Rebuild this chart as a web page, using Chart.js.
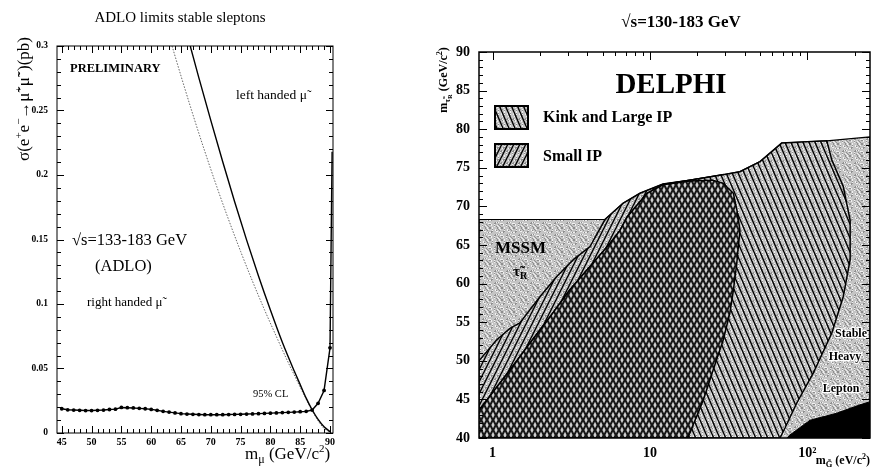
<!DOCTYPE html>
<html><head><meta charset="utf-8">
<script src="https://cdn.jsdelivr.net/npm/chart.js@4.4.1/dist/chart.umd.min.js"></script>
<style>
html,body{margin:0;padding:0;background:#fff;width:871px;height:467px;overflow:hidden}
canvas{position:absolute;top:0}
#c1{left:0}
#c2{left:430px}
</style></head><body>
<canvas id="c1" width="345" height="467"></canvas>
<canvas id="c2" width="441" height="467"></canvas>
<script>
// ================= LEFT PANEL DATA =================
const limitMass = [45,46,47,48,49,50,51,52,53,54,55,56,57,58,59,60,61,62,63,64,65,66,67,68,69,70,71,72,73,74,75,76,77,78,79,80,81,82,83,84,85,86,87,88,89,90,90.35];
const limitXsec = [0.0188,0.0180,0.0178,0.0176,0.0174,0.0174,0.0176,0.0178,0.0182,0.0185,0.0198,0.0196,0.0194,0.0191,0.0188,0.0183,0.0176,0.0168,0.0162,0.0156,0.0150,0.0147,0.0145,0.0143,0.0142,0.0142,0.0142,0.0142,0.0143,0.0144,0.0145,0.0147,0.0148,0.0150,0.0152,0.0154,0.0156,0.0158,0.0160,0.0162,0.0165,0.0168,0.0178,0.0230,0.0330,0.0660,0.2180];
const leftHandedMass = [66.55,68,70,72,74,76,78,80,82,84,85,86,87,88,89,90.1];
const leftHandedXsec = [0.300,0.2753,0.2423,0.2103,0.1793,0.1497,0.1217,0.0953,0.0703,0.048,0.0375,0.027,0.018,0.0105,0.0048,0.0008];
const rightHandedMass = [63.5,65,67,69,71,73,75,77,79,81,82,83,84,85,86,87,88,89,90.1];
const rightHandedXsec = [0.300,0.2768,0.2468,0.2182,0.191,0.1652,0.1408,0.1176,0.0956,0.0748,0.0645,0.0545,0.045,0.0355,0.0262,0.0173,0.0095,0.0035,0.0005];
const leftXTicks = [45,50,55,60,65,70,75,80,85,90];
const leftXMinorTicks = [46,47,48,49,51,52,53,54,56,57,58,59,61,62,63,64,66,67,68,69,71,72,73,74,76,77,78,79,81,82,83,84,86,87,88,89];
const leftYTicks = [0,0.05,0.1,0.15,0.2,0.25,0.3];
const leftYTickLabels = ['0','0.05','0.1','0.15','0.2','0.25','0.3'];
const leftYMinorTicks = [0.01,0.02,0.03,0.04,0.06,0.07,0.08,0.09,0.11,0.12,0.13,0.14,0.16,0.17,0.18,0.19,0.21,0.22,0.23,0.24,0.26,0.27,0.28,0.29];

// ================= RIGHT PANEL DATA =================
const gravitinoTicks = [1,10,100];
const gravitinoTickLabels = ['1','10','10\u00B2'];
const gravitinoMinorTicks = [2,3,4,5,6,7,8,9,20,30,40,50,60,70,80,90,200];
const stauTicks = [40,45,50,55,60,65,70,75,80,85,90];
const stauMinorTicks = [41,42,43,44,46,47,48,49,51,52,53,54,56,57,58,59,61,62,63,64,66,67,68,69,71,72,73,74,76,77,78,79,81,82,83,84,86,87,88,89];
const gMin = 0.82, gMax = 250, stauMin = 40, stauMax = 90;
const mssmBandTop = 68.3;
// upper/left edge of the "Small IP" region (m_G in eV, m_stau in GeV)
const smallIPEdgeG = [0.82,1.06,1.29,1.49,2.0,2.55,3.26,4.16,5.18,6.74,8.64,12.1,17.9,29.1];
const smallIPEdgeM = [50.0,52.7,54.2,54.9,58.3,60.9,63.1,64.8,68.3,70.4,71.7,72.9,73.4,74.1];
// left edge of the "Kink and Large IP" region (= left edge of overlap)
const kinkEdgeG = [0.82,1.29,1.73,2.32,3.10,4.16,5.57,6.45,7.14,9.57,12.1];
const kinkEdgeM = [43.6,48.8,52.3,55.7,59.2,62.2,65.2,66.9,68.6,71.7,72.8];
// top of overlap region
const overlapTopG = [12.1,17.9,25.0,29.1];
const overlapTopM = [72.8,73.3,73.4,73.0];
// right edge of overlap (= right edge of Small IP), top to bottom
const overlapRightG = [29.1,33.9,35.7,37.3,35.6,33.9,32.2,29.2,25.2,21.8,17.9,17.3];
const overlapRightM = [73.0,71.7,69.5,66.9,62.6,59.2,56.2,52.7,48.8,44.9,40.6,40.0];
// top of Kink region
const kinkTopG = [12.1,17.9,29.1,37.3,50,68.7,133];
const kinkTopM = [72.8,73.4,74.1,74.5,75.8,78.2,78.5];
// right edge of Kink region, top to bottom
const kinkRightG = [133,143,169,187,187,169,143,109,85.5,72.1,67];
const kinkRightM = [78.5,76.0,72.6,68.2,63.1,58.3,53.6,48.4,44.5,41.3,40.0];
// top of stable heavy lepton region
const stableTopG = [133,250];
const stableTopM = [78.5,79.0];
// top of black excluded region
const blackTopG = [74,77.5,104,153,216,250];
const blackTopM = [40,40.4,42.3,43.2,44.3,44.7];

// ================= PATTERNS =================
function makeTile(w, h, draw) {
  const c = document.createElement('canvas'); c.width = w; c.height = h;
  const g = c.getContext('2d'); draw(g, w, h);
  return g.createPattern(c, 'repeat');
}
function stipple(g, w, h) {
  g.fillStyle = '#c4c4c4'; g.fillRect(0, 0, w, h);
  for (let y = 0; y < h; y++) for (let x = 0; x < w; x++) {
    const k = (x * 7 + y * 13 + x * y * 3) % 11;
    if (k === 0 || k === 5) { g.fillStyle = '#8e8e8e'; g.fillRect(x, y, 1, 1); }
    else if (k === 3 || k === 8) { g.fillStyle = '#f0f0f0'; g.fillRect(x, y, 1, 1); }
  }
}
const ptn = {
  gray: makeTile(12, 12, stipple),
  smallIP: makeTile(6, 12, (g, w, h) => { stipple(g, w, h); g.strokeStyle = '#000'; g.lineWidth = 1.4; g.beginPath(); for (const o of [-w, 0, w]) { g.moveTo(o, h); g.lineTo(o + w, 0); } g.stroke(); }),
  kink: makeTile(6, 14, (g, w, h) => { stipple(g, w, h); g.strokeStyle = '#000'; g.lineWidth = 1.4; g.beginPath(); for (const o of [-w, 0, w]) { g.moveTo(o, 0); g.lineTo(o + w, h); } g.stroke(); }),
  overlap: makeTile(6, 10, (g, w, h) => {
    g.fillStyle = '#161616'; g.fillRect(0, 0, w, h); g.fillStyle = '#cfcfcf';
    const dia = (cx, cy) => { g.beginPath(); g.moveTo(cx, cy - 3.3); g.lineTo(cx + 1.6, cy); g.lineTo(cx, cy + 3.3); g.lineTo(cx - 1.6, cy); g.closePath(); g.fill(); };
    dia(3, 5); dia(0, 0); dia(6, 0); dia(0, 10); dia(6, 10);
  })
};

// ================= HELPERS / PLUGINS =================
const SERIF = '"Liberation Serif", "Times New Roman", serif';
const pts = (xs, ys) => xs.map((x, i) => ({ x: x, y: ys[i] }));

function drawRich(ctx, x, y, parts, align) {
  let total = 0;
  parts.forEach(p => { ctx.font = p.f; p.w = ctx.measureText(p.t).width; total += p.w; });
  let cx = align === 'center' ? x - total / 2 : align === 'right' ? x - total : x;
  parts.forEach(p => {
    ctx.font = p.f;
    if (p.halo) { ctx.strokeStyle = '#fff'; ctx.lineWidth = 2.5; ctx.lineJoin = 'round'; ctx.strokeText(p.t, cx, y + (p.dy || 0)); }
    ctx.fillStyle = p.c || '#000';
    ctx.fillText(p.t, cx, y + (p.dy || 0)); cx += p.w;
  });
}

const frameTicks = {
  id: 'frameTicks',
  afterDatasetsDraw(chart, args, o) {
    const { ctx, chartArea: a } = chart; const x = chart.scales.x, y = chart.scales.y;
    ctx.save(); ctx.strokeStyle = '#000';
    ctx.lineWidth = o.tickWidth; ctx.beginPath();
    const xt = (vals, len) => vals.forEach(v => { const p = Math.round(x.getPixelForValue(v)) + 0.5;
      if (o.bottom) { ctx.moveTo(p, a.bottom); ctx.lineTo(p, a.bottom - len); }
      ctx.moveTo(p, a.top); ctx.lineTo(p, a.top + len); });
    const yt = (vals, len) => vals.forEach(v => { const p = Math.round(y.getPixelForValue(v)) + 0.5;
      ctx.moveTo(a.left, p); ctx.lineTo(a.left + len, p);
      ctx.moveTo(a.right, p); ctx.lineTo(a.right - len, p); });
    xt(o.xMajor, o.majorLen); xt(o.xMinor, o.minorLen); yt(o.yMajor, o.majorLen); yt(o.yMinor, o.minorLen);
    ctx.stroke();
    ctx.lineWidth = o.frameWidth;
    ctx.strokeRect(a.left, a.top, a.right - a.left, a.bottom - a.top);
    ctx.restore();
  }
};

const annotations = {
  id: 'annotations',
  afterDraw(chart, args, o) {
    const ctx = chart.ctx; ctx.save(); ctx.textBaseline = 'alphabetic'; ctx.textAlign = 'left';
    (o.boxes || []).forEach(b => { ctx.fillStyle = b.fill; ctx.fillRect(b.x, b.y, b.w, b.h); ctx.lineWidth = 2; ctx.strokeStyle = '#000'; ctx.strokeRect(b.x, b.y, b.w, b.h); });
    (o.items || []).forEach(it => {
      ctx.save();
      if (it.rot) { ctx.translate(it.x, it.y); ctx.rotate(it.rot); drawRich(ctx, 0, 0, it.parts, it.align); }
      else drawRich(ctx, it.x, it.y, it.parts, it.align);
      ctx.restore();
    });
    ctx.restore();
  }
};

// ================= LEFT CHART =================
const F = (s, w) => (w ? 'bold ' : '') + s + 'px ' + SERIF;
new Chart(document.getElementById('c1'), {
  type: 'line',
  data: { datasets: [
    { label: '95% CL limit', data: pts(limitMass, limitXsec), borderColor: '#000', borderWidth: 1.4, tension: 0,
      pointRadius: limitMass.map(m => Number.isInteger(m) ? 1.9 : 0), pointBackgroundColor: '#000', pointBorderWidth: 0 },
    { label: 'left handed', data: pts(leftHandedMass, leftHandedXsec), borderColor: '#000', borderWidth: 1.4, pointRadius: 0, cubicInterpolationMode: 'monotone' },
    { label: 'right handed', data: pts(rightHandedMass, rightHandedXsec), borderColor: '#555', borderWidth: 0.9, borderDash: [1.5, 1.5], pointRadius: 0, cubicInterpolationMode: 'monotone' }
  ] },
  options: {
    responsive: false, animation: false, events: [],
    layout: { padding: { top: 46, right: 12, bottom: 0, left: 0 } },
    scales: {
      x: { type: 'linear', min: 44.2, max: 90.5, grid: { display: false, drawTicks: false }, border: { display: false },
        afterBuildTicks: s => { s.ticks = leftXTicks.map(v => ({ value: v })); },
        afterFit: s => { s.height = 34; },
        ticks: { padding: 3, color: '#000', maxRotation: 0, autoSkip: false, font: { family: SERIF, size: 10, weight: 'bold' } } },
      y: { type: 'linear', min: 0, max: 0.3, grid: { display: false, drawTicks: false }, border: { display: false },
        afterBuildTicks: s => { s.ticks = leftYTicks.map(v => ({ value: v })); },
        afterFit: s => { s.width = 57; },
        ticks: { padding: 9, color: '#000', autoSkip: false, font: { family: SERIF, size: 9.5, weight: 'bold' }, callback: (v, i) => leftYTickLabels[i] } }
    },
    plugins: {
      legend: { display: false }, tooltip: { enabled: false },
      frameTicks: { xMajor: leftXTicks, xMinor: leftXMinorTicks, yMajor: leftYTicks, yMinor: leftYMinorTicks, majorLen: 7, minorLen: 4, tickWidth: 1, frameWidth: 1, bottom: true },
      annotations: { items: [
        { x: 180, y: 22, align: 'center', parts: [{ t: 'ADLO limits stable sleptons', f: F(15) }] },
        { x: 70, y: 72, parts: [{ t: 'PRELIMINARY', f: F(12.5, 1) }] },
        { x: 236, y: 99, parts: [{ t: 'left handed \u03BC\u0303', f: F(13.5) }] },
        { x: 72, y: 245, parts: [{ t: '\u221As=133-183 GeV', f: F(16.5) }] },
        { x: 95, y: 271, parts: [{ t: '(ADLO)', f: F(16.5) }] },
        { x: 87, y: 306, parts: [{ t: 'right handed \u03BC\u0303', f: F(13) }] },
        { x: 253, y: 397, parts: [{ t: '95% CL', f: F(10.5) }] },
        { x: 29, y: 99, rot: -Math.PI / 2, align: 'center', parts: [
          { t: '\u03C3(e', f: F(17) }, { t: '+', f: F(11), dy: -7 }, { t: 'e', f: F(17) }, { t: '\u2212', f: F(11), dy: -7 },
          { t: '\u2192\u03BC\u0303', f: F(17) }, { t: '+', f: F(11), dy: -7 }, { t: '\u03BC\u0303', f: F(17) }, { t: '\u2212', f: F(11), dy: -7 },
          { t: ')(pb)', f: F(17) } ] },
        { x: 245, y: 459, parts: [{ t: 'm', f: F(17) }, { t: '\u03BC', f: F(12), dy: 4 }, { t: ' (GeV/c', f: F(17) }, { t: '2', f: F(11), dy: -7 }, { t: ')', f: F(17) }] }
      ] }
    }
  },
  plugins: [frameTicks, annotations]
});

// ================= RIGHT CHART =================
const mssmPoly = [{ x: gMin, y: stauMin }, { x: gMin, y: mssmBandTop }]
  .concat(pts(smallIPEdgeG, smallIPEdgeM).filter(p => p.y >= mssmBandTop))
  .concat(pts(kinkTopG, kinkTopM).filter(p => p.x > smallIPEdgeG[smallIPEdgeG.length - 1]))
  .concat(pts(stableTopG, stableTopM).slice(1))
  .concat([{ x: gMax, y: stauMin }]);
const smallIPPoly = [{ x: gMin, y: stauMin }].concat(pts(smallIPEdgeG, smallIPEdgeM)).concat(pts(overlapRightG, overlapRightM));
const kinkPoly = pts(kinkEdgeG, kinkEdgeM).concat(pts(kinkTopG, kinkTopM).slice(1)).concat(pts(kinkRightG, kinkRightM).slice(1)).concat([{ x: gMin, y: stauMin }]);
const overlapPoly = pts(kinkEdgeG, kinkEdgeM).concat(pts(overlapTopG, overlapTopM).slice(1)).concat(pts(overlapRightG, overlapRightM).slice(1)).concat([{ x: gMin, y: stauMin }]);
const blackPoly = pts(blackTopG, blackTopM).concat([{ x: gMax, y: stauMin }]);

const region = (label, data, fill, order, bw) => ({ label, data, backgroundColor: fill, borderColor: '#000', borderWidth: bw, fill: 'shape', pointRadius: 0, tension: 0, order });

new Chart(document.getElementById('c2'), {
  type: 'line',
  data: { datasets: [
    region('MSSM / Stable heavy lepton', mssmPoly, ptn.gray, 5, 1.2),
    region('Small IP', smallIPPoly, ptn.smallIP, 4, 1.5),
    region('Kink and Large IP', kinkPoly, ptn.kink, 3, 1.5),
    region('overlap', overlapPoly, ptn.overlap, 2, 1.5),
    region('excluded', blackPoly, '#000', 1, 1)
  ] },
  options: {
    responsive: false, animation: false, events: [],
    layout: { padding: { top: 52, right: 1, bottom: 0, left: 0 } },
    scales: {
      x: { type: 'logarithmic', min: gMin, max: gMax, grid: { display: false, drawTicks: false }, border: { display: false },
        afterBuildTicks: s => { s.ticks = gravitinoTicks.map(v => ({ value: v })); },
        afterFit: s => { s.height = 29; },
        ticks: { padding: 7, color: '#000', maxRotation: 0, autoSkip: false, font: { family: SERIF, size: 14, weight: 'bold' }, callback: (v, i) => gravitinoTickLabels[i] } },
      y: { type: 'linear', min: stauMin, max: stauMax, grid: { display: false, drawTicks: false }, border: { display: false },
        afterBuildTicks: s => { s.ticks = stauTicks.map(v => ({ value: v })); },
        afterFit: s => { s.width = 49; },
        ticks: { padding: 9, color: '#000', autoSkip: false, font: { family: SERIF, size: 14, weight: 'bold' } } }
    },
    plugins: {
      legend: { display: false }, tooltip: { enabled: false },
      frameTicks: { xMajor: gravitinoTicks, xMinor: gravitinoMinorTicks, yMajor: stauTicks, yMinor: stauMinorTicks, majorLen: 8, minorLen: 4, tickWidth: 1, frameWidth: 1.5, bottom: false },
      annotations: {
        boxes: [ { x: 65, y: 106, w: 33, h: 23, fill: ptn.kink }, { x: 65, y: 144, w: 33, h: 23, fill: ptn.smallIP } ],
        items: [
          { x: 251, y: 27, align: 'center', parts: [{ t: '\u221As=130-183 GeV', f: F(17, 1) }] },
          { x: 241, y: 93, align: 'center', parts: [{ t: 'DELPHI', f: F(29, 1) }] },
          { x: 113, y: 122, parts: [{ t: 'Kink and Large IP', f: F(16, 1) }] },
          { x: 113, y: 161, parts: [{ t: 'Small IP', f: F(16, 1) }] },
          { x: 65, y: 253, parts: [{ t: 'MSSM', f: F(17, 1) }] },
          { x: 83, y: 276, parts: [{ t: '\u03C4\u0303', f: F(15, 1) }, { t: 'R', f: F(10, 1), dy: 3 }] },
          { x: 421, y: 337, align: 'center', parts: [{ t: 'Stable', f: F(12, 1), halo: true }] },
          { x: 415, y: 360, align: 'center', parts: [{ t: 'Heavy', f: F(12, 1), halo: true }] },
          { x: 411, y: 392, align: 'center', parts: [{ t: 'Lepton', f: F(12, 1), halo: true }] },
          { x: 440, y: 464, align: 'right', parts: [{ t: 'm', f: F(12, 1) }, { t: 'G\u0303', f: F(8.5, 1), dy: 3 }, { t: ' (eV/c', f: F(12, 1) }, { t: '2', f: F(8, 1), dy: -5 }, { t: ')', f: F(12, 1) }] },
          { x: 17, y: 80, rot: -Math.PI / 2, align: 'center', parts: [{ t: 'm', f: F(12, 1) }, { t: '\u03C4\u0303', f: F(8.5, 1), dy: 3 }, { t: 'R', f: F(6.5, 1), dy: 5 }, { t: ' (GeV/c', f: F(12, 1) }, { t: '2', f: F(8, 1), dy: -5 }, { t: ')', f: F(12, 1) }] }
        ]
      }
    }
  },
  plugins: [frameTicks, annotations]
});
</script>
</body></html>
